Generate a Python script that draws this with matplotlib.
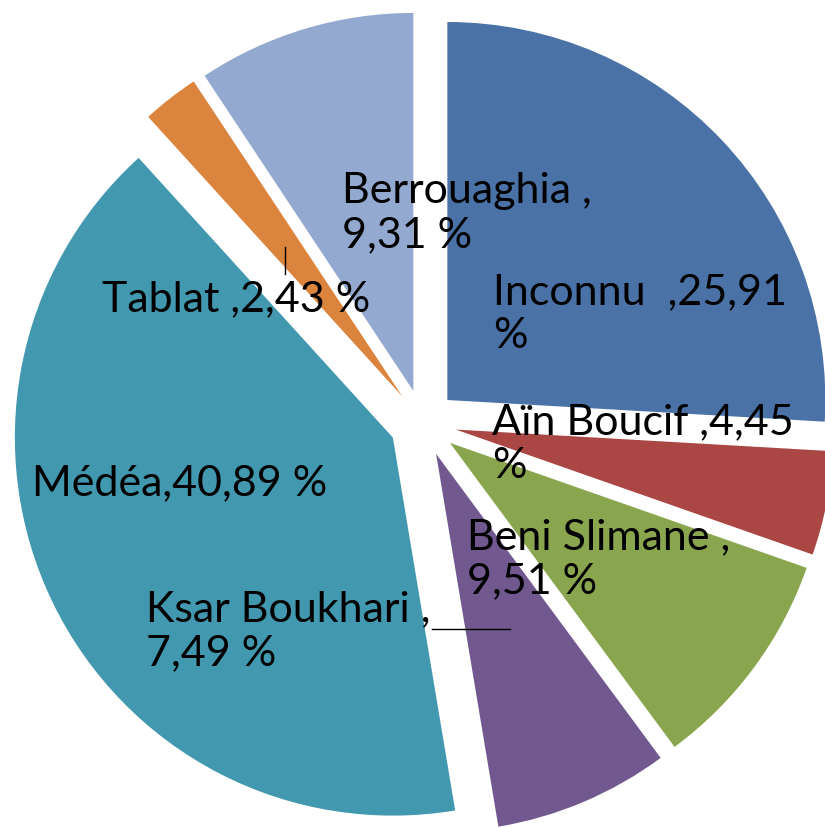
import matplotlib
matplotlib.use("Agg")
import matplotlib.pyplot as plt

# données (sens horaire depuis midi)
regions = ["Inconnu", "Aïn Boucif", "Beni Slimane", "Ksar Boukhari",
           "Médéa", "Tablat", "Berrouaghia"]
shares = [25.91, 4.45, 9.51, 7.49, 40.89, 2.43, 9.31]
colors = ["#4A72A6", "#AA4643", "#89A54E", "#71588F",
          "#4198AF", "#DB843D", "#93A9CF"]
label_texts = [
    "Inconnu  ,25,91\n%",
    "Aïn Boucif ,4,45\n%",
    "Beni Slimane ,\n9,51 %",
    "Ksar Boukhari ,\n7,49 %",
    "Médéa,40,89 %",
    "Tablat ,2,43 %",
    "Berrouaghia ,\n9,31 %",
]
# position des étiquettes en pixels (gauche, ligne de base de la dernière ligne)
label_px = [(493, 348), (492, 478), (467, 593), (146, 665),
            (32, 495), (102, 311), (342, 247)]

W, H = 825, 828
CX, CY, R = 423, 424, 378  # centre et rayon en pixels


def to_data(px, py):
    return (px - CX) / R, (CY - py) / R


fig = plt.figure(figsize=(W / 100, H / 100), dpi=100)
ax = fig.add_axes([0, 0, 1, 1])
ax.pie(shares, colors=colors, startangle=90, counterclock=False,
       explode=[0.0886] * len(shares), wedgeprops=dict(linewidth=0))
ax.set_aspect("auto")
ax.set_xlim(-CX / R, (W - CX) / R)
ax.set_ylim(-(H - CY) / R, CY / R)
ax.axis("off")

for txt, (px, py) in zip(label_texts, label_px):
    x, y = to_data(px, py)
    ax.text(x, y, txt, ha="left", va="baseline", fontsize=31,
            family="Lato", color="black", linespacing=1.18)

# traits de rappel
for (x0, y0), (x1, y1) in [((285, 248), (285, 275)), ((432, 630), (510, 630))]:
    a, b = to_data(x0, y0)
    c, d = to_data(x1, y1)
    ax.plot([a, c], [b, d], color="black", lw=1)

fig.savefig("out.png", dpi=100)
